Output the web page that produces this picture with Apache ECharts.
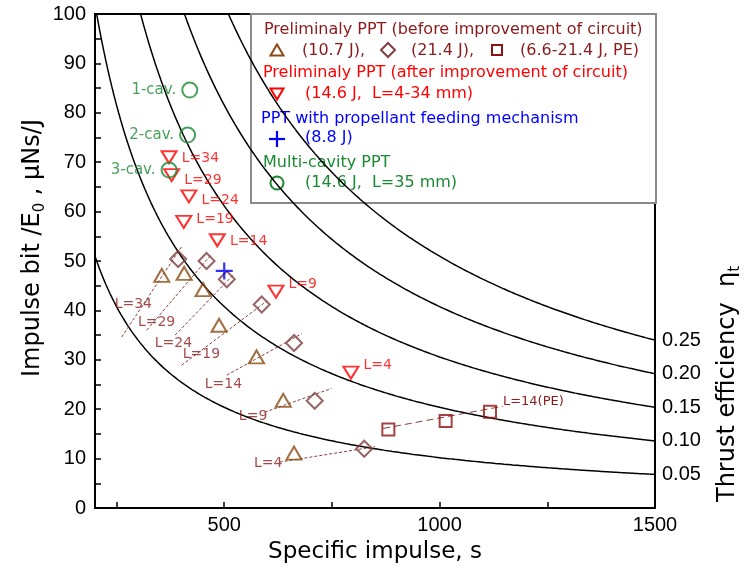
<!DOCTYPE html>
<html>
<head>
<meta charset="utf-8">
<script src="https://cdn.jsdelivr.net/npm/echarts@6/dist/echarts.min.js"></script>
<style>
  html, body { margin: 0; padding: 0; background: #fff; }
  #chart { width: 748px; height: 570px; }
</style>
</head>
<body>
<div id="chart"></div>
<script>
// ---------------- data ----------------
// constant thrust-efficiency levels drawn as guide curves
const efficiencyLevels = [0.05, 0.10, 0.15, 0.20, 0.25];
const efficiencyLabels = ['0.05', '0.10', '0.15', '0.20', '0.25'];

// electrode length L (mm) of the preliminary PPT runs
const gapLengths = [34, 29, 24, 19, 14, 9, 4];

// preliminary PPT, before circuit improvement, 10.7 J
const isp107 = [355, 407, 451, 488, 575, 637, 662];
const ibit107 = [47.1, 47.5, 44.2, 37.0, 30.6, 21.8, 11.1];
// preliminary PPT, before circuit improvement, 21.4 J
const isp214 = [393, 459, 506, 587, 662, 710, 825];
const ibit214 = [50.4, 50.0, 46.3, 41.2, 33.4, 21.7, 12.0];
// polyethylene propellant, 6.6-21.4 J
const ispPE = [881, 1014, 1117];
const ibitPE = [15.9, 17.6, 19.5];

// preliminary PPT, after circuit improvement, 14.6 J
const ispImproved = [372, 378, 418, 406, 484, 620, 794];
const ibitImproved = [71.0, 67.4, 63.1, 57.9, 54.2, 43.8, 27.4];

// PPT with propellant feeding mechanism, 8.8 J
const ispFeed = [500];
const ibitFeed = [48.0];

// multi-cavity PPT, 14.6 J, L = 35 mm
const cavityLabels = ['1-cav.', '2-cav.', '3-cav.'];
const ispCavity = [420, 415, 372];
const ibitCavity = [84.6, 75.5, 68.4];

// dashed same-L trend lines (start / end) and their tag anchors
const trendStartIsp = [262, 320, 386, 401, 506, 594, 629];
const trendStartIbit = [34.6, 36.0, 35.0, 28.9, 26.9, 19.4, 9.3];
const trendEndIsp = [401, 469, 520, 599, 680, 749, 850];
const trendEndIbit = [52.9, 51.2, 47.1, 41.9, 35.3, 24.2, 12.4];
const trendTagIsp = [289, 343, 382, 447, 498, 567, 602];
const trendTagIbit = [41.3, 37.5, 33.4, 31.1, 25.0, 18.6, 9.1];
const peTrendIsp = [869, 1147];
const peTrendIbit = [16.1, 20.6];
const peTrendTag = 'L=14(PE)';

// axis ticks
const xTickValues = [250, 500, 750, 1000, 1250, 1500];
const xLabelValues = [500, 1000, 1500];
const yTickValues = [0, 5, 10, 15, 20, 25, 30, 35, 40, 45, 50, 55, 60, 65, 70, 75, 80, 85, 90, 95, 100];
const yLabelValues = [0, 10, 20, 30, 40, 50, 60, 70, 80, 90, 100];

// ---------------- styling ----------------
const NUM_FONT = 'Liberation Sans';
const TXT_FONT = 'DejaVu Sans';
const C_TRI = '#8c4a12';
const C_DIA = '#7d3f3f';
const C_SQR = '#8e1212';
const C_DARK = '#8b1a1a';
const C_GUIDE = '#8e3c3c';
const C_RED = '#ff0000';
const C_BLUE = '#0000ff';
const C_GREEN = '#1a8a32';

// vertical nudges (px) of the L tags next to the improved-circuit points
const improvedTagShift = [1, 5, 4, -3, 1, -7, -7];

// I_bit/E0 [uNs/J] on a line of constant thrust efficiency:
// eta = I_bit * g * Isp / (2 E0)  ->  I_bit/E0 = 2 eta / (g Isp)
const G0 = 9.81;
function efficiencyCurve(eta) {
  const pts = [];
  for (let isp = 200; isp <= 1500; isp += 5) {
    pts.push([isp, 2 * eta / (G0 * isp) * 1e6]);
  }
  return pts;
}

const zip = (xs, ys) => xs.map((x, i) => [x, ys[i]]);

const series = [];

efficiencyLevels.forEach((eta, i) => {
  series.push({
    type: 'line',
    data: efficiencyCurve(eta),
    showSymbol: false,
    silent: true,
    clip: true,
    z: 1,
    lineStyle: { color: '#000', width: 1.5 },
    endLabel: {
      show: true,
      formatter: efficiencyLabels[i],
      color: '#000',
      fontSize: 20,
      fontFamily: NUM_FONT,
      distance: 7
    }
  });
});

// dashed same-L trend lines
gapLengths.forEach((L, i) => {
  series.push({
    type: 'line',
    data: [[trendStartIsp[i], trendStartIbit[i]], [trendEndIsp[i], trendEndIbit[i]]],
    showSymbol: false,
    silent: true,
    z: 2,
    lineStyle: { color: C_GUIDE, width: 1, type: [3, 2] }
  });
});
series.push({
  type: 'line',
  data: zip(peTrendIsp, peTrendIbit),
  showSymbol: false,
  silent: true,
  z: 2,
  lineStyle: { color: C_GUIDE, width: 1, type: [7, 4] },
  endLabel: { show: true, formatter: peTrendTag, color: C_DARK, fontSize: 13, fontFamily: TXT_FONT, distance: 0, offset: [0, -5] }
});

// tags of the trend lines
series.push({
  type: 'scatter',
  data: zip(trendTagIsp, trendTagIbit).map((p, i) => ({ value: p, name: 'L=' + gapLengths[i] })),
  symbolSize: 0,
  silent: true,
  z: 3,
  label: { show: true, position: 'inside', formatter: '{b}', color: C_DARK, fontSize: 14, fontFamily: TXT_FONT }
});

const hollow = (color, width) => ({ color: 'rgba(0,0,0,0)', borderColor: color, borderWidth: width });

series.push({
  type: 'scatter', name: '10.7 J',
  data: zip(isp107, ibit107),
  symbol: 'triangle', symbolSize: [15, 13], z: 4,
  itemStyle: hollow(C_TRI, 2)
});
series.push({
  type: 'scatter', name: '21.4 J',
  data: zip(isp214, ibit214),
  symbol: 'diamond', symbolSize: [16, 16], z: 4,
  itemStyle: hollow(C_DIA, 2)
});
series.push({
  type: 'scatter', name: 'PE',
  data: zip(ispPE, ibitPE),
  symbol: 'rect', symbolSize: [12, 12], z: 4,
  itemStyle: hollow(C_SQR, 2)
});
series.push({
  type: 'scatter', name: 'improved',
  data: zip(ispImproved, ibitImproved).map((p, i) => ({
    value: p, name: 'L=' + gapLengths[i],
    label: { offset: [0, improvedTagShift[i]] }
  })),
  symbol: 'triangle', symbolRotate: 180, symbolSize: [15, 12], z: 4,
  itemStyle: hollow(C_RED, 2),
  label: { show: true, position: 'right', distance: 4, formatter: '{b}', color: C_RED, fontSize: 14, fontFamily: TXT_FONT }
});
series.push({
  type: 'scatter', name: 'feed',
  data: zip(ispFeed, ibitFeed),
  symbol: 'path://M0,8L16,8M8,0L8,16', symbolSize: 17, z: 4,
  itemStyle: { color: 'rgba(0,0,0,0)', borderColor: C_BLUE, borderWidth: 2.2 }
});
series.push({
  type: 'scatter', name: 'cavity',
  data: zip(ispCavity, ibitCavity).map((p, i) => ({ value: p, name: cavityLabels[i] })),
  symbol: 'circle', symbolSize: 15, z: 4,
  itemStyle: hollow(C_GREEN, 2),
  label: { show: true, position: 'left', distance: 5, formatter: '{b}', color: C_GREEN, fontSize: 15, fontFamily: TXT_FONT }
});

// ---------------- legend box ----------------
const LX = 251, LY = 14, LW = 405, LH = 189;
const mx = 277;
function txt(x, y, s, color) {
  return { type: 'text', x: x, y: y, style: { text: s, fill: color, font: '16px "DejaVu Sans"', verticalAlign: 'middle', align: 'left' } };
}
function triShape(cx, cy, color, down) {
  const w = 6.5, h = 5.5;
  const pts = down ? [[cx - w, cy - h], [cx + w, cy - h], [cx, cy + h]] : [[cx, cy - h], [cx + w, cy + h], [cx - w, cy + h]];
  return { type: 'polygon', shape: { points: pts }, style: { fill: 'none', stroke: color, lineWidth: 2 } };
}
const legendChildren = [
  { type: 'rect', shape: { x: LX, y: LY, width: LW, height: LH }, style: { fill: '#fff', stroke: '#8a8a8a', lineWidth: 2 } },
  txt(264, 30, 'Preliminaly PPT (before improvement of circuit)', C_DARK),
  triShape(mx, 50, C_TRI, false),
  txt(302, 51, '(10.7 J),', C_DARK),
  { type: 'polygon', shape: { points: [[388, 43], [395, 50], [388, 57], [381, 50]] }, style: { fill: 'none', stroke: C_DIA, lineWidth: 2 } },
  txt(411, 51, '(21.4 J),', C_DARK),
  { type: 'rect', shape: { x: 492, y: 45, width: 10, height: 10 }, style: { fill: 'none', stroke: C_SQR, lineWidth: 2 } },
  txt(520, 51, '(6.6-21.4 J, PE)', C_DARK),
  txt(263, 73, 'Preliminaly PPT (after improvement of circuit)', C_RED),
  triShape(mx, 94, C_RED, true),
  txt(305, 94, '(14.6 J,  L=4-34 mm)', C_RED),
  txt(261, 119, 'PPT with propellant feeding mechanism', C_BLUE),
  { type: 'line', shape: { x1: mx - 8, y1: 139, x2: mx + 8, y2: 139 }, style: { stroke: C_BLUE, lineWidth: 2.2 } },
  { type: 'line', shape: { x1: mx, y1: 131, x2: mx, y2: 147 }, style: { stroke: C_BLUE, lineWidth: 2.2 } },
  txt(305, 138, '(8.8 J)', C_BLUE),
  txt(263, 163, 'Multi-cavity PPT', C_GREEN),
  { type: 'circle', shape: { cx: mx, cy: 183, r: 6.5 }, style: { fill: 'none', stroke: C_GREEN, lineWidth: 2 } },
  txt(305, 183, '(14.6 J,  L=35 mm)', C_GREEN)
];

const option = {
  animation: false,
  backgroundColor: '#fff',
  grid: { left: 95, right: 93, top: 14, bottom: 62, show: true, borderColor: '#000', borderWidth: 2, backgroundColor: 'rgba(0,0,0,0)' },
  xAxis: {
    type: 'value', min: 200, max: 1500,
    axisLine: { show: true, lineStyle: { color: '#000', width: 2 } },
    axisTick: { show: true, inside: true, length: 6, customValues: xTickValues, lineStyle: { color: '#000', width: 1.5 } },
    axisLabel: { customValues: xLabelValues, formatter: v => String(v), color: '#000', fontSize: 20, fontFamily: NUM_FONT, margin: 7 },
    splitLine: { show: false }
  },
  yAxis: {
    type: 'value', min: 0, max: 100,
    axisLine: { show: true, lineStyle: { color: '#000', width: 2 } },
    axisTick: { show: true, inside: true, length: 6, customValues: yTickValues, lineStyle: { color: '#000', width: 1.5 } },
    axisLabel: { customValues: yLabelValues, formatter: v => String(v), color: '#000', fontSize: 20, fontFamily: NUM_FONT, margin: 9 },
    splitLine: { show: false }
  },
  graphic: [
    { type: 'group', z: 100, children: legendChildren },
    {
      type: 'text', x: 375, y: 552, z: 100,
      style: { text: 'Specific impulse, s', font: '23px "DejaVu Sans"', fill: '#000', align: 'center', verticalAlign: 'middle' }
    },
    {
      type: 'text', x: 33, y: 248, rotation: Math.PI / 2, z: 100,
      style: {
        text: '{a|Impulse bit /E}{s|0}{a| , μNs/J}', align: 'center', verticalAlign: 'middle',
        rich: {
          a: { font: '24px "DejaVu Sans"', fill: '#000', lineHeight: 30 },
          s: { font: '15px "DejaVu Sans"', fill: '#000', lineHeight: 30, verticalAlign: 'bottom' }
        }
      }
    },
    {
      type: 'text', x: 728, y: 384, rotation: Math.PI / 2, z: 100,
      style: {
        text: '{a|Thrust efficiency  η}{s|t}', align: 'center', verticalAlign: 'middle',
        rich: {
          a: { font: '24px "DejaVu Sans"', fill: '#000', lineHeight: 30 },
          s: { font: '15px "DejaVu Sans"', fill: '#000', lineHeight: 30, verticalAlign: 'bottom' }
        }
      }
    }
  ],
  series: series
};

const chart = echarts.init(document.getElementById('chart'), null, { renderer: 'canvas' });
chart.setOption(option);
</script>
</body>
</html>
